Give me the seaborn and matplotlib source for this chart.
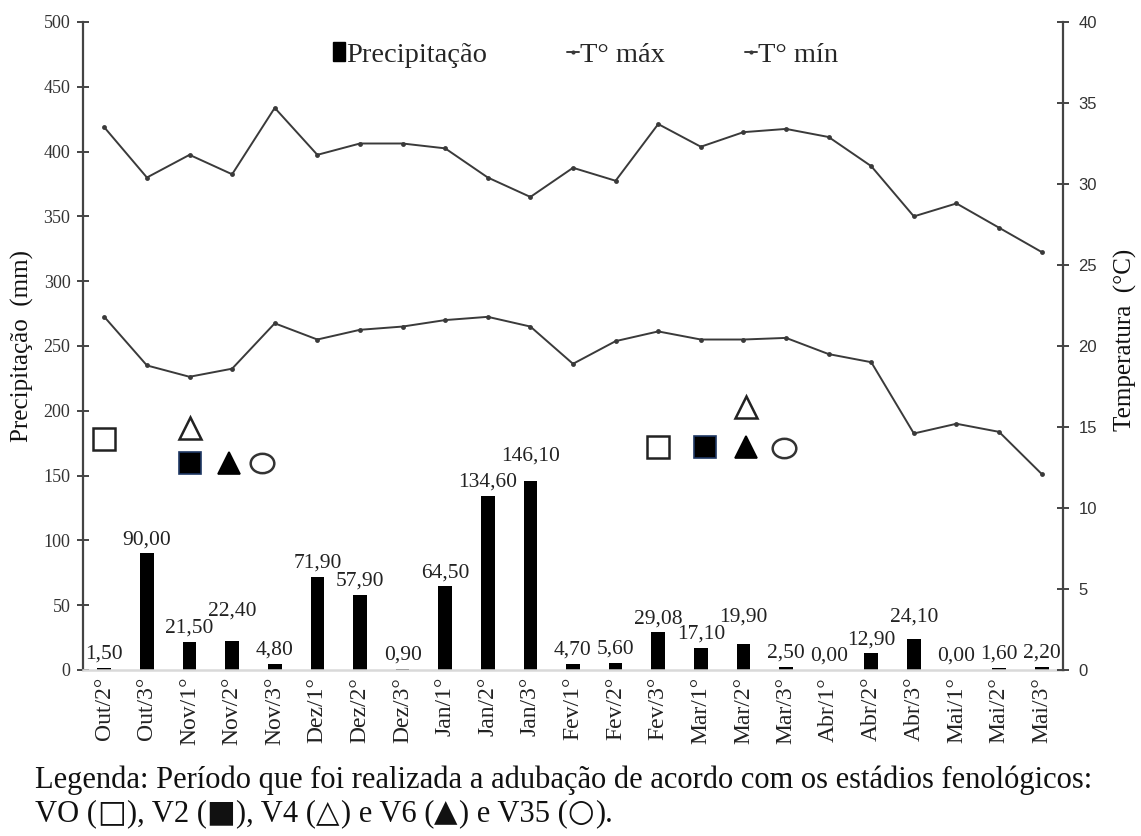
import numpy as np
import pandas as pd
import matplotlib
matplotlib.use("Agg")
import matplotlib.pyplot as plt
from matplotlib.markers import MarkerStyle
from matplotlib.transforms import Affine2D
from matplotlib.patches import Patch
from matplotlib.lines import Line2D
import seaborn as sns

# ---- data -------------------------------------------------------------
periods = ["Out/2°", "Out/3°", "Nov/1°", "Nov/2°", "Nov/3°", "Dez/1°", "Dez/2°",
           "Dez/3°", "Jan/1°", "Jan/2°", "Jan/3°", "Fev/1°", "Fev/2°", "Fev/3°",
           "Mar/1°", "Mar/2°", "Mar/3°", "Abr/1°", "Abr/2°", "Abr/3°", "Mai/1°",
           "Mai/2°", "Mai/3°"]
precip_mm = [1.50, 90.00, 21.50, 22.40, 4.80, 71.90, 57.90, 0.90, 64.50, 134.60,
             146.10, 4.70, 5.60, 29.08, 17.10, 19.90, 2.50, 0.00, 12.90, 24.10,
             0.00, 1.60, 2.20]
t_max = [33.5, 30.4, 31.8, 30.6, 34.7, 31.8, 32.5, 32.5, 32.2, 30.4, 29.2, 31.0,
         30.2, 33.7, 32.3, 33.2, 33.4, 32.9, 31.1, 28.0, 28.8, 27.3, 25.8]
t_min = [21.8, 18.8, 18.1, 18.6, 21.4, 20.4, 21.0, 21.2, 21.6, 21.8, 21.2, 18.9,
         20.3, 20.9, 20.4, 20.4, 20.5, 19.5, 19.0, 14.6, 15.2, 14.7, 12.1]

# fertilisation events by phenological stage (period index, height in mm)
stage_names = ["V0", "V4", "V2", "V6", "V35", "V0", "V2", "V4", "V6", "V35"]
stage_x = [0.0, 2.0, 2.0, 2.93, 3.7, 13.0, 14.1, 15.05, 15.05, 15.95]
stage_y = [178, 187, 160, 160, 160, 172, 172, 203, 172, 171]

caption_1 = "Legenda: Período que foi realizada a adubação de acordo com os estádios fenológicos:"
# second caption line: (text, is_symbol)
caption_2 = [("VO (", False), ("□", True), ("), V2 (", False), ("■", True),
             ("), V4 (", False), ("△", True), (") e V6 (", False), ("▲", True),
             (") e V35 (", False), ("○", True), (").", False)]

# ---- styling ----------------------------------------------------------
sns.set_style("white")
SERIF = ["Liberation Serif", "DejaVu Serif"]
SYMBOL = ["DejaVu Sans"]
plt.rcParams["font.family"] = SERIF
INK = "#3a3a3a"

df = pd.DataFrame({"period": periods, "precip": precip_mm,
                   "tmax": t_max, "tmin": t_min, "pos": np.arange(len(periods))})

fig = plt.figure(figsize=(11.41, 8.36), dpi=100)
ax = fig.add_axes([83 / 1141, 1 - 670 / 836, 980 / 1141, 648 / 836])

# precipitation bars
sns.barplot(data=df, x="period", y="precip", color="black", saturation=1,
            width=0.32, errorbar=None, ax=ax, linewidth=0)

# value labels above bars (a few raised to keep them apart)
raise_pts = {3: 12, 10: 8, 15: 10, 19: 6}
for i, v in enumerate(precip_mm):
    ax.annotate(f"{v:.2f}".replace(".", ","), (i, v),
                xytext=(0, 3 + raise_pts.get(i, 0)), textcoords="offset points",
                ha="center", va="bottom", fontsize=15.5, color="#222222")

# phenological stage symbols
ellipse = MarkerStyle("o", transform=Affine2D().scale(1.0, 0.82))
stage_style = {
    "V0": dict(marker="s", ms=16.5, mfc="white", mec="#222222", mew=1.8),
    "V2": dict(marker="s", ms=16.5, mfc="black", mec="#1f3864", mew=1.2),
    "V4": dict(marker="^", ms=16.5, mfc="white", mec="#222222", mew=1.8),
    "V6": dict(marker="^", ms=16.5, mfc="black", mec="black", mew=1.2),
    "V35": dict(marker=ellipse, ms=17, mfc="white", mec="#333333", mew=1.8),
}
for name, x, y in zip(stage_names, stage_x, stage_y):
    ax.plot([x], [y], linestyle="none", **stage_style[name], zorder=5)

ax.set_xlim(-0.5, len(periods) - 0.5)
ax.set_ylim(0, 500)
ax.set_yticks(np.arange(0, 501, 50))
ax.set_xlabel("")
ax.set_ylabel("Precipitação  (mm)", fontsize=18, color="#111111")
ax.yaxis.set_label_coords(-0.05, 0.5)
ax.set_xticks(range(len(periods)))
ax.set_xticklabels(periods, rotation=90, fontsize=17, color="#222222")
ax.tick_params(axis="x", length=0, pad=5)
ax.tick_params(axis="y", direction="inout", length=8, width=1.4, color="#444444",
               labelsize=13, labelcolor="#333333", pad=5)
for side in ["top", "right"]:
    ax.spines[side].set_visible(False)
ax.spines["left"].set_color("#444444")
ax.spines["left"].set_linewidth(1.6)
ax.spines["bottom"].set_color("#d9d9d9")
ax.spines["bottom"].set_linewidth(1.8)

# temperatures on the right axis
ax2 = ax.twinx()
sns.lineplot(data=df, x="pos", y="tmax", color=INK, lw=1.4, marker="o",
             markersize=3.5, markeredgewidth=0, ax=ax2)
sns.lineplot(data=df, x="pos", y="tmin", color=INK, lw=1.4, marker="o",
             markersize=3.5, markeredgewidth=0, ax=ax2)
ax2.set_xlim(-0.5, len(periods) - 0.5)
ax2.set_ylim(0, 40)
ax2.set_yticks(np.arange(0, 41, 5))
ax2.set_xlabel("")
ax2.set_ylabel("Temperatura  (°C)", fontsize=18, color="#111111")
ax2.yaxis.set_label_coords(1.052, 0.51)
ax2.tick_params(axis="y", direction="inout", length=8, width=1.4, color="#444444",
                labelsize=12, labelcolor="#333333", pad=7)
for lab in ax2.get_yticklabels():
    lab.set_family(["Liberation Sans", "DejaVu Sans"])
for side in ["top", "left", "bottom"]:
    ax2.spines[side].set_visible(False)
ax2.spines["right"].set_color("#444444")
ax2.spines["right"].set_linewidth(1.6)

# legend row at the top
handles = [
    Patch(facecolor="black", edgecolor="black"),
    Line2D([], [], color=INK, lw=1.4, marker="o", ms=3, mew=0),
    Line2D([], [], color=INK, lw=1.4, marker="o", ms=3, mew=0),
]
fig.legend(handles, ["Precipitação", "T° máx", "T° mín"], ncol=3,
           loc="center left", bbox_to_anchor=(333 / 1141, 1 - 55 / 836),
           frameon=False, fontsize=20.5, handlelength=0.42, handleheight=0.6,
           handletextpad=0.05, columnspacing=2.8, borderpad=0, borderaxespad=0)

# caption below the chart
W, H = 1141, 836
fig.text(35 / W, 1 - 788 / H, caption_1, fontsize=22, va="baseline",
         ha="left", color="#111111", family=SERIF)

renderer = fig.canvas.get_renderer()
x_px = 35.0
for piece, is_symbol in caption_2:
    t = fig.text(x_px / W, 1 - 821 / H, piece, fontsize=22, va="baseline",
                 ha="left", color="#111111",
                 family=SYMBOL if is_symbol else SERIF)
    x_px += t.get_window_extent(renderer).width + (1 if is_symbol else 0)

fig.savefig("out.png", dpi=100, facecolor="white")
